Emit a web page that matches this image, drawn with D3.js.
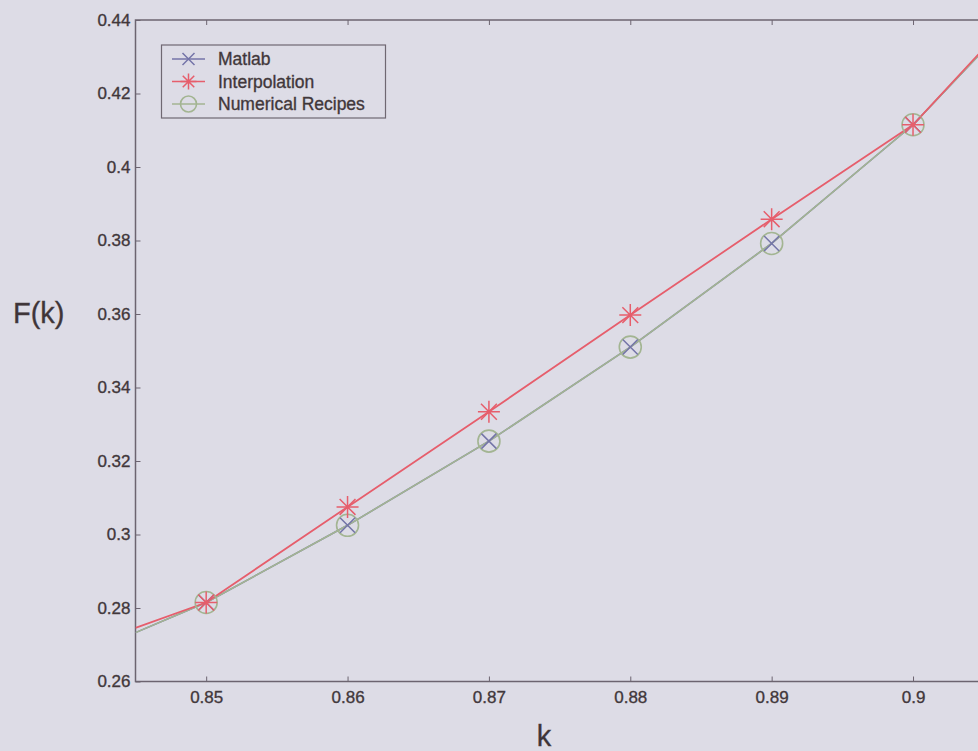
<!DOCTYPE html>
<html>
<head>
<meta charset="utf-8">
<script src="https://cdn.jsdelivr.net/npm/d3@7"></script>
<style>
  html, body { margin: 0; padding: 0; background: #dddce6; }
  svg { display: block; font-family: Arial, "Liberation Sans", sans-serif; }
  text { stroke: #4a4044; stroke-width: 0.35px; }
</style>
</head>
<body>
<svg width="978" height="751"></svg>
<script>
// k values where the curves are sampled (line ends run to the axes edges)
var lineK = [0.845, 0.85, 0.86, 0.87, 0.88, 0.89, 0.9, 0.905];
var matlabLine = [0.2733, 0.2815, 0.3025, 0.3254, 0.3510, 0.3792, 0.4115, 0.4318];
var interpLine = [0.2746, 0.2815, 0.3075, 0.3334, 0.3597, 0.3858, 0.4115, 0.4322];
var recipesLine = [0.2733, 0.2815, 0.3025, 0.3254, 0.3510, 0.3792, 0.4115, 0.4318];

// marker points
var markK = [0.85, 0.86, 0.87, 0.88, 0.89, 0.9];
var matlabPts = [0.2815, 0.3025, 0.3254, 0.3510, 0.3792, 0.4115];
var interpPts = [0.2815, 0.3075, 0.3334, 0.3597, 0.3858, 0.4115];
var recipesPts = [0.2815, 0.3025, 0.3254, 0.3510, 0.3792, 0.4115];

var xTicks = [0.85, 0.86, 0.87, 0.88, 0.89, 0.9];
var xTickLabels = ["0.85", "0.86", "0.87", "0.88", "0.89", "0.9"];
var yTicks = [0.26, 0.28, 0.3, 0.32, 0.34, 0.36, 0.38, 0.4, 0.42, 0.44];
var yTickLabels = ["0.26", "0.28", "0.3", "0.32", "0.34", "0.36", "0.38", "0.4", "0.42", "0.44"];

var legendNames = ["Matlab", "Interpolation", "Numerical Recipes"];

var blue = "#7474a8", red = "#e65e6c", green = "#a3b592";
var ink = "#3e3538", axisCol = "#6c6470";

var svg = d3.select("svg");

var x = d3.scaleLinear().domain([0.845, 0.905]).range([135.5, 983.7]);
var y = d3.scaleLinear().domain([0.26, 0.44]).range([681.5, 20]);

svg.append("defs").append("clipPath").attr("id", "plotclip")
  .append("rect")
  .attr("x", x(0.845)).attr("y", y(0.44))
  .attr("width", x(0.905) - x(0.845)).attr("height", y(0.26) - y(0.44));

// axes box
function styleAxis(g) {
  g.select(".domain").remove();
  g.selectAll(".tick line").attr("stroke", axisCol);
  g.selectAll(".tick text").attr("fill", ink).style("font-size", "17px");
}

svg.append("g")
  .attr("transform", `translate(0, ${y(0.26)})`)
  .call(d3.axisBottom(x).tickValues(xTicks).tickFormat((d, i) => xTickLabels[i])
    .tickSizeInner(-5).tickSizeOuter(0).tickPadding(9))
  .call(styleAxis);

svg.append("g")
  .attr("transform", `translate(0, ${y(0.44)})`)
  .call(d3.axisTop(x).tickValues(xTicks).tickFormat("")
    .tickSizeInner(-5).tickSizeOuter(0))
  .call(styleAxis);

svg.append("g")
  .attr("transform", `translate(${x(0.845)}, 0)`)
  .call(d3.axisLeft(y).tickValues(yTicks).tickFormat((d, i) => yTickLabels[i])
    .tickSizeInner(-5).tickSizeOuter(0).tickPadding(5))
  .call(styleAxis);

svg.append("g")
  .attr("transform", `translate(${x(0.905)}, 0)`)
  .call(d3.axisRight(y).tickValues(yTicks).tickFormat("")
    .tickSizeInner(-5).tickSizeOuter(0))
  .call(styleAxis);

svg.append("rect")
  .attr("x", x(0.845)).attr("y", y(0.44))
  .attr("width", x(0.905) - x(0.845)).attr("height", y(0.26) - y(0.44))
  .attr("fill", "none").attr("stroke", axisCol).attr("stroke-width", 1.5);

// curves
var plot = svg.append("g").attr("clip-path", "url(#plotclip)");

var line = d3.line()
  .x((d) => x(d[0]))
  .y((d) => y(d[1]));

function drawLine(vals, color, w) {
  plot.append("path")
    .attr("d", line(lineK.map((k, i) => [k, vals[i]])))
    .attr("fill", "none")
    .attr("stroke", color)
    .attr("stroke-width", w);
}
drawLine(matlabLine, blue, 1.6);
drawLine(recipesLine, green, 1.6);
drawLine(interpLine, red, 1.8);

// marker shapes
function xMark(g, cx, cy, r, color) {
  g.append("path")
    .attr("d", `M${cx - r},${cy - r}L${cx + r},${cy + r}M${cx - r},${cy + r}L${cx + r},${cy - r}`)
    .attr("stroke", color).attr("stroke-width", 1.5).attr("fill", "none");
}
function starMark(g, cx, cy, r, color) {
  var d = r * 0.72;
  g.append("path")
    .attr("d", `M${cx - r},${cy}L${cx + r},${cy}M${cx},${cy - r}L${cx},${cy + r}` +
      `M${cx - d},${cy - d}L${cx + d},${cy + d}M${cx - d},${cy + d}L${cx + d},${cy - d}`)
    .attr("stroke", color).attr("stroke-width", 1.5).attr("fill", "none");
}
function circleMark(g, cx, cy, r, color) {
  g.append("circle")
    .attr("cx", cx).attr("cy", cy).attr("r", r)
    .attr("stroke", color).attr("stroke-width", 1.6).attr("fill", "none");
}

markK.forEach((k, i) => {
  circleMark(plot, x(k), y(recipesPts[i]), 11, green);
  xMark(plot, x(k), y(matlabPts[i]), 7.5, blue);
  starMark(plot, x(k), y(interpPts[i]), 11, red);
});

// legend
var lg = svg.append("g");
lg.append("rect")
  .attr("x", 161.5).attr("y", 45)
  .attr("width", 224).attr("height", 73)
  .attr("fill", "#dddce6").attr("stroke", "#6f6872").attr("stroke-width", 1.2);

var legendColors = [blue, red, green];
var legendMarks = [xMark, starMark, circleMark];
var legendR = [6, 8, 8];
legendNames.forEach((name, i) => {
  var ly = 59 + i * 22.5;
  lg.append("line")
    .attr("x1", 172).attr("x2", 205).attr("y1", ly).attr("y2", ly)
    .attr("stroke", legendColors[i]).attr("stroke-width", 1.5);
  legendMarks[i](lg, 188.5, ly, legendR[i], legendColors[i]);
  lg.append("text")
    .attr("x", 218).attr("y", ly + 6)
    .attr("fill", ink)
    .style("font-size", "17.5px")
    .text(name);
});

// axis titles
svg.append("text")
  .attr("x", 13).attr("y", 323)
  .attr("fill", ink)
  .style("font-size", "29px")
  .text("F(k)");

svg.append("text")
  .attr("x", 544).attr("y", 746)
  .attr("text-anchor", "middle")
  .attr("fill", ink)
  .style("font-size", "29px")
  .text("k");
</script>
</body>
</html>
